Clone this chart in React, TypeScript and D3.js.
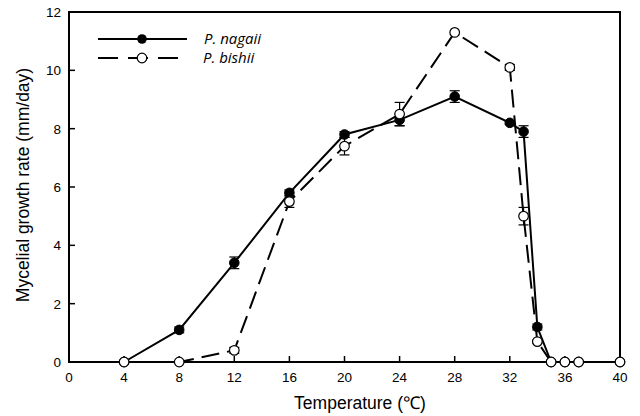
import React from "react";
import * as d3 from "d3";

const temps = [4, 8, 12, 16, 20, 24, 28, 32, 33, 34, 35, 36, 37, 40];
const nagaii = [0, 1.1, 3.4, 5.8, 7.8, 8.3, 9.1, 8.2, 7.9, 1.2, 0, 0, 0, 0];
const nagaiiErr = [0, 0.1, 0.2, 0.1, 0.1, 0.2, 0.2, 0.05, 0.2, 0.1, 0, 0, 0, 0];
const bishii = [0, 0, 0.4, 5.5, 7.4, 8.5, 11.3, 10.1, 5.0, 0.7, 0, 0, 0, 0];
const bishiiErr = [0, 0, 0.1, 0.2, 0.3, 0.4, 0, 0.1, 0.3, 0.05, 0, 0, 0, 0];
const xTicks = [0, 4, 8, 12, 16, 20, 24, 28, 32, 36, 40];
const yTicks = [0, 2, 4, 6, 8, 10, 12];

export default function App() {
  const W = 640, H = 416;
  const x = d3.scaleLinear().domain([0, 40]).range([69, 620]);
  const y = d3.scaleLinear().domain([0, 12]).range([362, 12]);
  const line = d3.line<[number, number]>().x(d => x(d[0])).y(d => y(d[1]));
  const nPts = temps.map((t, i) => [t, nagaii[i]] as [number, number]);
  const bPts = temps.map((t, i) => [t, bishii[i]] as [number, number]);
  const font = "'Liberation Sans', Arial, sans-serif";

  const errBars = (vals: number[], errs: number[], key: string) =>
    temps.map((t, i) =>
      errs[i] > 0 ? (
        <g key={key + i} stroke="#000" strokeWidth={1.2}>
          <line x1={x(t)} x2={x(t)} y1={y(vals[i] - errs[i])} y2={y(vals[i] + errs[i])} />
          <line x1={x(t) - 5} x2={x(t) + 5} y1={y(vals[i] - errs[i])} y2={y(vals[i] - errs[i])} />
          <line x1={x(t) - 5} x2={x(t) + 5} y1={y(vals[i] + errs[i])} y2={y(vals[i] + errs[i])} />
        </g>
      ) : null
    );

  return (
    <svg width={W} height={H} style={{ position: "absolute", left: 0, top: 0, background: "#fff" }}>
      {/* frame */}
      <rect x={x(0)} y={y(12)} width={x(40) - x(0)} height={y(0) - y(12)} fill="none" stroke="#000" strokeWidth={2} />
      {/* ticks */}
      {xTicks.slice(1, -1).map(t => (
        <line key={"xt" + t} x1={x(t)} x2={x(t)} y1={y(0)} y2={y(0) - 6} stroke="#000" strokeWidth={1.5} />
      ))}
      {yTicks.slice(1, -1).map(t => (
        <line key={"yt" + t} x1={x(0)} x2={x(0) + 6} y1={y(t)} y2={y(t)} stroke="#000" strokeWidth={1.5} />
      ))}
      {xTicks.map(t => (
        <text key={"xl" + t} x={x(t)} y={y(0) + 20} textAnchor="middle" fontFamily={font} fontSize={13.5} fill="#000">{t}</text>
      ))}
      {yTicks.map(t => (
        <text key={"yl" + t} x={x(0) - 8} y={y(t) + 5} textAnchor="end" fontFamily={font} fontSize={13.5} fill="#000">{t}</text>
      ))}
      <text x={360} y={409} textAnchor="middle" fontFamily={font} fontSize={17.5} fill="#000">Temperature (℃)</text>
      <text transform={`translate(29,185) rotate(-90)`} textAnchor="middle" fontFamily={font} fontSize={17.5} fill="#000">Mycelial growth rate (mm/day)</text>

      {/* error bars */}
      {errBars(nagaii, nagaiiErr, "ne")}
      {errBars(bishii, bishiiErr, "be")}

      {/* lines */}
      <path d={line(nPts) || ""} fill="none" stroke="#000" strokeWidth={2} />
      <path d={line(bPts) || ""} fill="none" stroke="#000" strokeWidth={2} strokeDasharray="18,8" />

      {/* markers */}
      {nPts.map((p, i) => (
        <circle key={"nm" + i} cx={x(p[0])} cy={y(p[1])} r={4.8} fill="#000" stroke="#000" strokeWidth={1} />
      ))}
      {bPts.map((p, i) => (
        <circle key={"bm" + i} cx={x(p[0])} cy={y(p[1])} r={4.8} fill="#fff" stroke="#000" strokeWidth={1.2} />
      ))}

      {/* legend */}
      <line x1={98} x2={187} y1={39} y2={39} stroke="#000" strokeWidth={2} />
      <circle cx={142} cy={39} r={4.8} fill="#000" />
      <text x={204} y={44} fontFamily="'Open Sans', sans-serif" fontStyle="italic" fontSize={15} fill="#000">P. nagaii</text>
      <line x1={98} x2={178} y1={58} y2={58} stroke="#000" strokeWidth={2} strokeDasharray="20,10" />
      <circle cx={142} cy={58} r={4.8} fill="#fff" stroke="#000" strokeWidth={1.2} />
      <text x={203} y={63} fontFamily="'Open Sans', sans-serif" fontStyle="italic" fontSize={15} fill="#000">P. bishii</text>
    </svg>
  );
}
